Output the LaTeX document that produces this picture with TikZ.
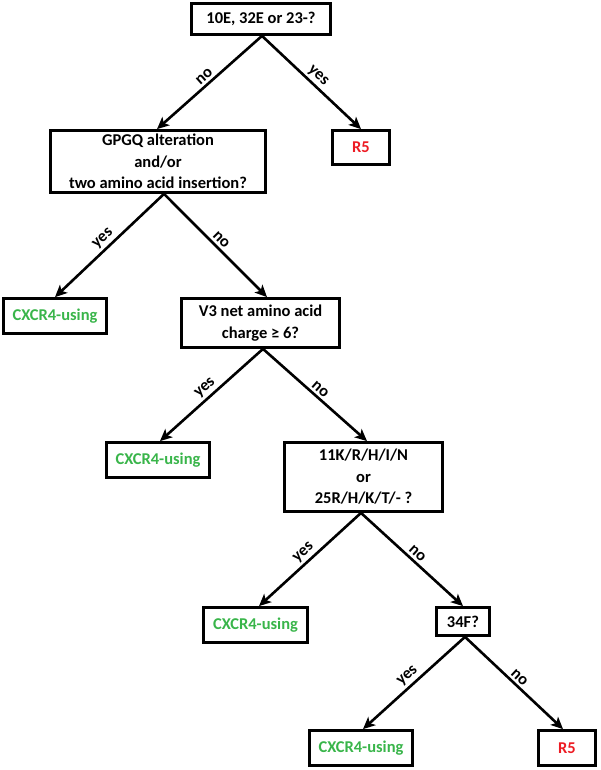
\documentclass[tikz,border=0pt]{standalone}
\usepackage{fontspec}
\setmainfont{Carlito}
\usetikzlibrary{arrows.meta}
\definecolor{xgreen}{RGB}{57,181,74}
\definecolor{xred}{RGB}{237,28,36}
\tikzset{
  box/.style={draw=black, line width=2.8pt, align=center, inner sep=0pt,
    font=\fontsize{16.5}{21.5}\selectfont\bfseries},
  arr/.style={line width=2.6pt, -{Stealth[length=12pt,width=11pt,inset=3pt]}},
  lbl/.style={midway, sloped, above, inner sep=2.5pt, font=\fontsize{16.5}{18}\selectfont\bfseries},
  xtext/.style={text=xgreen},
  rtext/.style={text=xred}
}
\begin{document}
\begin{tikzpicture}[x=1pt,y=-1pt]
\useasboundingbox (0,0) rectangle (600,770);
\node[box, minimum width=139pt, minimum height=31pt] (q1) at (261,19) {10E, 32E or 23-?};
\node[box, rtext, minimum width=57pt, minimum height=34pt] (r1) at (361,147.5) {R5};
\node[box, minimum width=215pt, minimum height=62pt] (q2) at (158,161.5) {GPGQ alteration\\and/or\\two amino acid insertion?};
\node[box, xtext, minimum width=103pt, minimum height=35pt] (c1) at (55,316) {CXCR4-using};
\node[box, minimum width=158pt, minimum height=49pt] (q3) at (260.5,323) {V3 net amino acid\\charge ≥ 6?};
\node[box, xtext, minimum width=103pt, minimum height=35pt] (c2) at (158,460) {CXCR4-using};
\node[box, minimum width=158pt, minimum height=69pt] (q4) at (363.5,477) {11K/R/H/I/N\\or\\25R/H/K/T/- ?};
\node[box, xtext, minimum width=104pt, minimum height=35pt] (c3) at (255.5,625) {CXCR4-using};
\node[box, minimum width=53pt, minimum height=28pt] (q5) at (463,621.5) {34F?};
\node[box, xtext, minimum width=103pt, minimum height=35pt] (c4) at (361,748) {CXCR4-using};
\node[box, rtext, minimum width=57pt, minimum height=35pt] (r2) at (567,748) {R5};

\draw[arr] ([xshift=1pt]q1.south) -- node[lbl]{no} ([xshift=-1pt]q2.north);
\draw[arr] ([xshift=1pt]q1.south) -- node[lbl]{yes} (r1.north);
\draw[arr] ([xshift=6pt]q2.south) -- node[lbl]{yes} (c1.north);
\draw[arr] ([xshift=6pt]q2.south) -- node[lbl]{no} ([xshift=6.5pt]q3.north);
\draw[arr] ([xshift=2.5pt]q3.south) -- node[lbl]{yes} ([xshift=2pt]c2.north);
\draw[arr] ([xshift=2.5pt]q3.south) -- node[lbl]{no} ([xshift=3.5pt]q4.north);
\draw[arr] ([xshift=-2.5pt]q4.south) -- node[lbl]{yes} ([xshift=3.5pt]c3.north);
\draw[arr] ([xshift=-2.5pt]q4.south) -- node[lbl]{no} (q5.north);
\draw[arr] ([xshift=2pt]q5.south) -- node[lbl]{yes} ([xshift=2pt]c4.north);
\draw[arr] ([xshift=2pt]q5.south) -- node[lbl]{no} ([xshift=-4pt]r2.north);
\end{tikzpicture}
\end{document}
